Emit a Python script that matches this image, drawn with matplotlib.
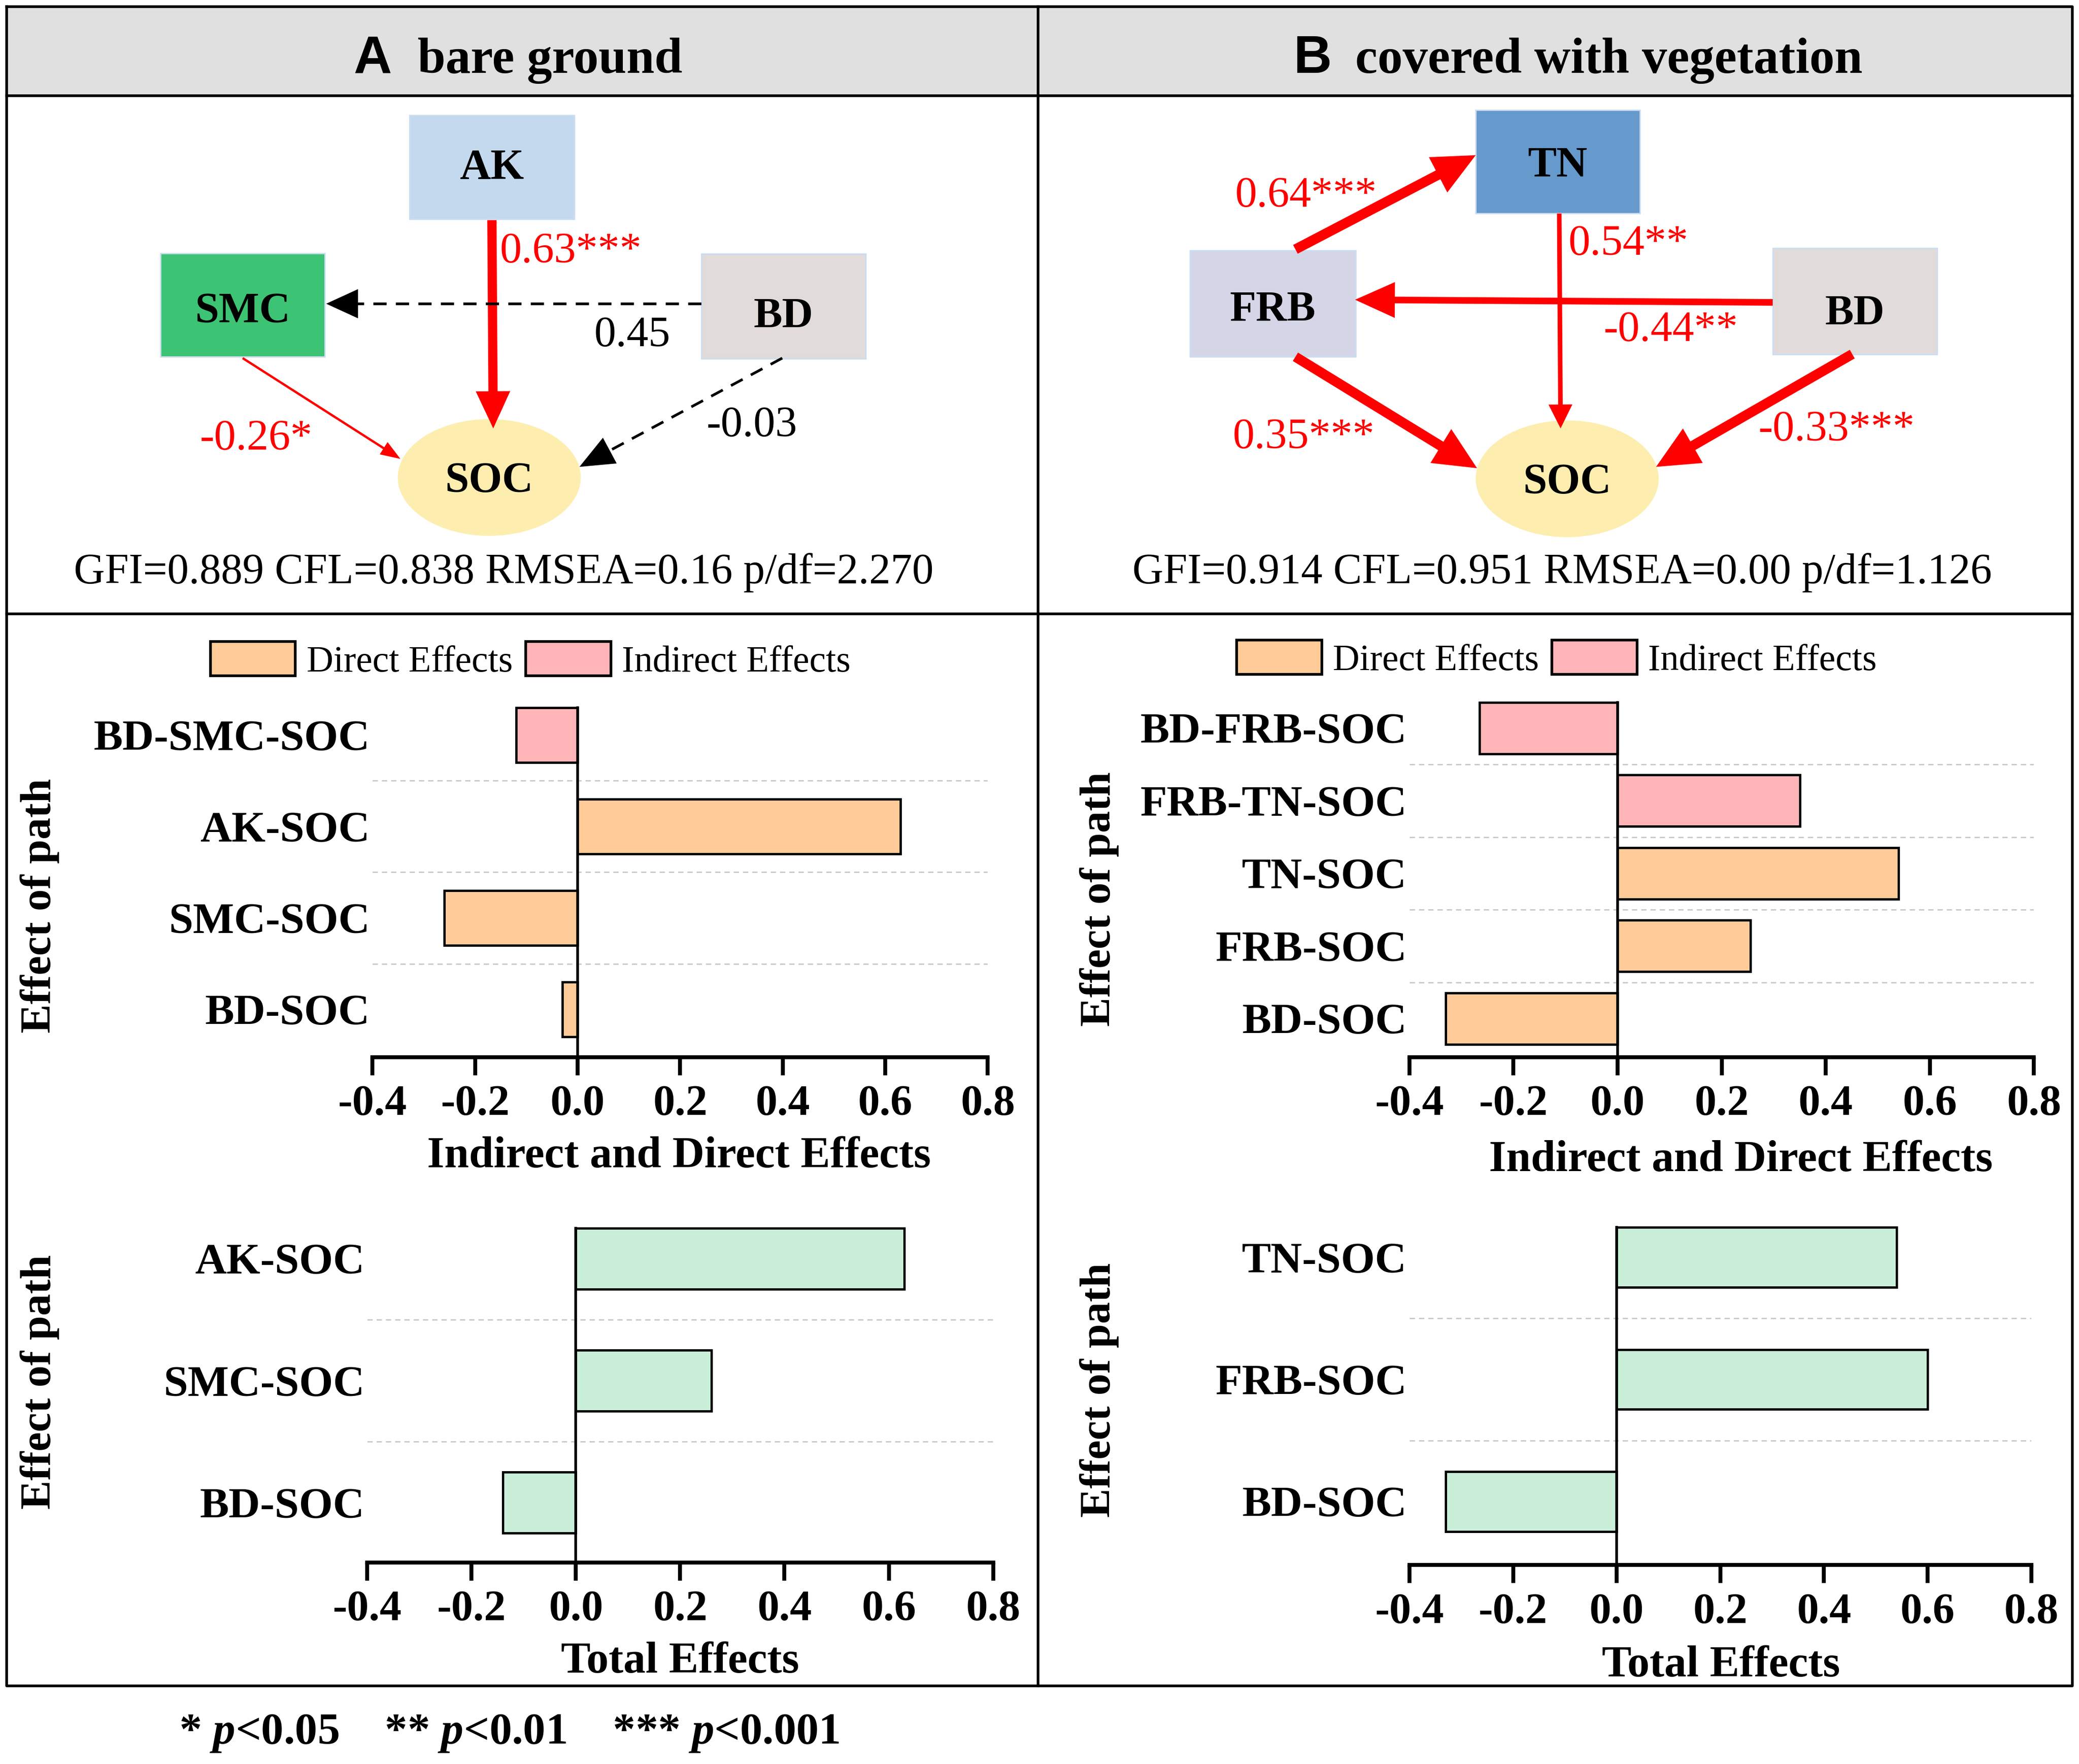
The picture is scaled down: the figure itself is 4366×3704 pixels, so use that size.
import matplotlib.pyplot as plt
from matplotlib.patches import Rectangle, Ellipse, Polygon, Patch
import numpy as np

plt.rcParams['font.family'] = 'Liberation Serif'
plt.rcParams['mathtext.fontset'] = 'custom'
plt.rcParams['mathtext.rm'] = 'Liberation Serif:bold'
plt.rcParams['mathtext.it'] = 'Liberation Serif:italic:bold'

# ---- data ----
a_mix_paths = ["BD-SOC", "SMC-SOC", "AK-SOC", "BD-SMC-SOC"]
a_mix_values = [-0.03, -0.26, 0.63, -0.12]
a_mix_kind = ["direct", "direct", "direct", "indirect"]

a_total_paths = ["BD-SOC", "SMC-SOC", "AK-SOC"]
a_total_values = [-0.14, 0.26, 0.63]

b_mix_paths = ["BD-SOC", "FRB-SOC", "TN-SOC", "FRB-TN-SOC", "BD-FRB-SOC"]
b_mix_values = [-0.33, 0.255, 0.54, 0.35, -0.265]
b_mix_kind = ["direct", "direct", "direct", "indirect", "indirect"]

b_total_paths = ["BD-SOC", "FRB-SOC", "TN-SOC"]
b_total_values = [-0.33, 0.60, 0.54]

a_fit = "GFI=0.889 CFL=0.838 RMSEA=0.16 p/df=2.270"
b_fit = "GFI=0.914 CFL=0.951 RMSEA=0.00 p/df=1.126"

# SEM paths: (label, significant)
a_coefs = {"AK-SOC": ("0.63***", True), "BD-SMC": ("0.45", False),
           "SMC-SOC": ("-0.26*", True), "BD-SOC": ("-0.03", False)}
b_coefs = {"FRB-TN": ("0.64***", True), "TN-SOC": ("0.54**", True),
           "BD-FRB": ("-0.44**", True), "FRB-SOC": ("0.35***", True),
           "BD-SOC": ("-0.33***", True)}

KIND_COLORS = {"direct": "#FECB99", "indirect": "#FFB5B8"}
TOTAL_COLOR = "#C9EFD9"
RED = "#FF0000"

# ---- layout (reference pixel grid 1568 x 1330) ----
W, H = 1568, 1330

fig = plt.figure(figsize=(43.66, 37.04), dpi=100)
ov = fig.add_axes([0, 0, 1, 1])
ov.set_xlim(0, W)
ov.set_ylim(H, 0)
ov.axis("off")


def frac(x, y):
    return x / W, 1 - y / H


def rect(x0, x1, ytop, ybot):
    return [x0 / W, 1 - ybot / H, (x1 - x0) / W, (ybot - ytop) / H]


# frame and header
ov.add_patch(Rectangle((5, 5), 1558, 67, fc="#E0E0E0", ec="none"))
frame_kw = dict(color="black", lw=4, solid_capstyle="projecting")
ov.plot([5, 1563, 1563, 5, 5], [5, 5, 1271, 1271, 5], **frame_kw)
ov.plot([5, 1563], [72, 72], **frame_kw)
ov.plot([5, 1563], [463, 463], **frame_kw)
ov.plot([783, 783], [5, 1271], **frame_kw)

ov.text(281, 55, "A", family="Liberation Sans", weight="bold", fontsize=80,
        ha="center", va="baseline")
ov.text(315, 55, "bare ground", weight="bold", fontsize=76, ha="left", va="baseline")
ov.text(990, 55, "B", family="Liberation Sans", weight="bold", fontsize=80,
        ha="center", va="baseline")
ov.text(1022, 55, "covered with vegetation", weight="bold", fontsize=76,
        ha="left", va="baseline")


def box(cx, cy, w, h, color, label, dy=11):
    ov.add_patch(Rectangle((cx - w / 2, cy - h / 2), w, h, fc=color,
                           ec="#CADDF2", lw=2, zorder=2))
    ov.text(cx, cy + dy, label, weight="bold", fontsize=65, ha="center",
            va="baseline", zorder=5)


def oval(cx, cy, w, h, color, label):
    ov.add_patch(Ellipse((cx, cy), w, h, fc=color, ec="none", zorder=2))
    ov.text(cx, cy + 11, label, weight="bold", fontsize=65, ha="center",
            va="baseline", zorder=5)


def arrow(p0, p1, lw, color, hl, hw, dashed=False):
    p0 = np.array(p0, float)
    p1 = np.array(p1, float)
    u = (p1 - p0) / np.hypot(*(p1 - p0))
    n = np.array([-u[1], u[0]])
    base = p1 - hl * u
    end = p1 - 0.6 * hl * u
    ls = (0, (5, 3.5)) if dashed else "-"
    ov.plot([p0[0], end[0]], [p0[1], end[1]], color=color, lw=lw, ls=ls,
            solid_capstyle="butt", dash_capstyle="butt", zorder=3)
    ov.add_patch(Polygon([p1, base + hw / 2 * n, base - hw / 2 * n],
                         closed=True, fc=color, ec="none", zorder=4))


def coef(x, y, key, coefs, ha="center"):
    text, sig = coefs[key]
    ov.text(x, y, text, fontsize=66, color=RED if sig else "black",
            ha=ha, va="baseline", zorder=6)


# panel A diagram
box(371, 126, 124, 78, "#C5D9EE", "AK", dy=9)
box(183, 230, 124, 78, "#3CC373", "SMC", dy=13)
box(591, 231, 124, 79, "#E1DBD9", "BD", dy=16)
oval(369, 360, 138, 88, "#FDEEB0", "SOC")

arrow((371, 166), (372, 323), 14, RED, 28, 26)
arrow((529, 229), (246, 229), 4, "black", 24, 22, dashed=True)
arrow((183, 270), (302, 346), 3.5, RED, 15, 11)
arrow((590, 270), (437, 352), 4, "black", 26, 22, dashed=True)
coef(377, 198, "AK-SOC", a_coefs, ha="left")
coef(477, 261, "BD-SMC", a_coefs)
coef(193, 339, "SMC-SOC", a_coefs)
coef(567, 329, "BD-SOC", a_coefs)
ov.text(380, 440, a_fit, fontsize=65, ha="center", va="baseline")

# panel B diagram
box(1175, 122, 124, 78, "#6699CC", "TN", dy=11)
box(960, 229, 125, 80, "#D5D5E8", "FRB", dy=13)
box(1399, 227, 124, 80, "#E1DBD9", "BD", dy=18)
oval(1182, 361, 138, 88, "#FDEEB0", "SOC")

arrow((977, 188), (1113, 117), 15, RED, 32, 30)
arrow((1176, 161), (1177, 323), 7, RED, 18, 18)
arrow((1337, 228), (1022, 226), 10, RED, 30, 27)
arrow((977, 269), (1114, 353), 15, RED, 32, 30)
arrow((1397, 267), (1249, 352), 15, RED, 32, 30)
coef(985, 156, "FRB-TN", b_coefs)
coef(1183, 192, "TN-SOC", b_coefs, ha="left")
coef(1260, 257, "BD-FRB", b_coefs)
coef(983, 338, "FRB-SOC", b_coefs)
coef(1385, 332, "BD-SOC", b_coefs)
ov.text(1178, 440, b_fit, fontsize=65, ha="center", va="baseline")


# ---- bar panels ----
def bar_panel(x0, x1, ytop, ybot, ylim, paths, values, colors, height):
    ax = fig.add_axes(rect(x0, x1, ytop, ybot))
    ax.set_facecolor("none")
    y = np.arange(len(paths))
    ax.barh(y, values, height=height, color=colors, edgecolor="black",
            lw=3.5, zorder=3)
    for s in y[:-1]:
        ax.axhline(s + 0.5, color="#C8C8C8", ls=(0, (4, 3)), lw=2, zorder=1)
    ax.plot([0, 0], [ylim[0], y[-1] + height / 2], color="black", lw=4,
            zorder=4, clip_on=False)
    ax.set_xlim(-0.4, 0.8)
    ax.set_ylim(*ylim)
    ax.set_xticks(np.arange(-0.4, 0.81, 0.2))
    ax.set_xticklabels([f"{v:.1f}" for v in np.arange(-0.4, 0.81, 0.2)])
    ax.set_yticks(y)
    ax.set_yticklabels(paths)
    for s in ["top", "right", "left"]:
        ax.spines[s].set_visible(False)
    ax.spines["bottom"].set_linewidth(6)
    ax.tick_params(axis="x", direction="out", length=27, width=6, pad=15,
                   labelsize=66)
    ax.tick_params(axis="y", length=0, pad=4, labelsize=66)
    for lab in ax.get_xticklabels() + ax.get_yticklabels():
        lab.set_fontweight("bold")
    return ax


bar_panel(281, 745, 519.6, 797, (-0.52, 3.5), a_mix_paths, a_mix_values,
          [KIND_COLORS[k] for k in a_mix_kind], 0.6)
bar_panel(277, 749, 903, 1178, (-0.49, 2.5), a_total_paths, a_total_values,
          TOTAL_COLOR, 0.5)
bar_panel(1063, 1534, 521.6, 797, (-0.53, 4.5), b_mix_paths, b_mix_values,
          [KIND_COLORS[k] for k in b_mix_kind], 0.71)
bar_panel(1063, 1532, 902, 1180, (-0.52, 2.5), b_total_paths, b_total_values,
          TOTAL_COLOR, 0.49)

for x, y, txt in [(512, 872, "Indirect and Direct Effects"),
                  (513, 1253, "Total Effects"),
                  (1313, 875, "Indirect and Direct Effects"),
                  (1298, 1256, "Total Effects")]:
    fig.text(*frac(x, y), txt, weight="bold", fontsize=67, ha="center",
             va="center")

for x, y in [(30, 683), (30, 1042), (829, 678), (829, 1048)]:
    fig.text(*frac(x, y), "Effect of path", weight="bold", fontsize=66,
             rotation=90, ha="center", va="center")

legend_handles = [Patch(fc=KIND_COLORS["direct"], ec="black", lw=4,
                        label="Direct Effects"),
                  Patch(fc=KIND_COLORS["indirect"], ec="black", lw=4,
                        label="Indirect Effects")]
for x, y in [(400, 498), (1174, 497)]:
    fig.legend(handles=legend_handles, loc="center", bbox_to_anchor=frac(x, y),
               ncol=2, frameon=False, fontsize=56, handlelength=2.3,
               handleheight=1.05, handletextpad=0.3, columnspacing=0.35,
               borderpad=0, borderaxespad=0)

fig.text(*frac(135, 1307), r"* $p$<0.05    ** $p$<0.01    *** $p$<0.001",
         weight="bold", fontsize=68, ha="left", va="center")

fig.savefig("out.png", dpi=100)
